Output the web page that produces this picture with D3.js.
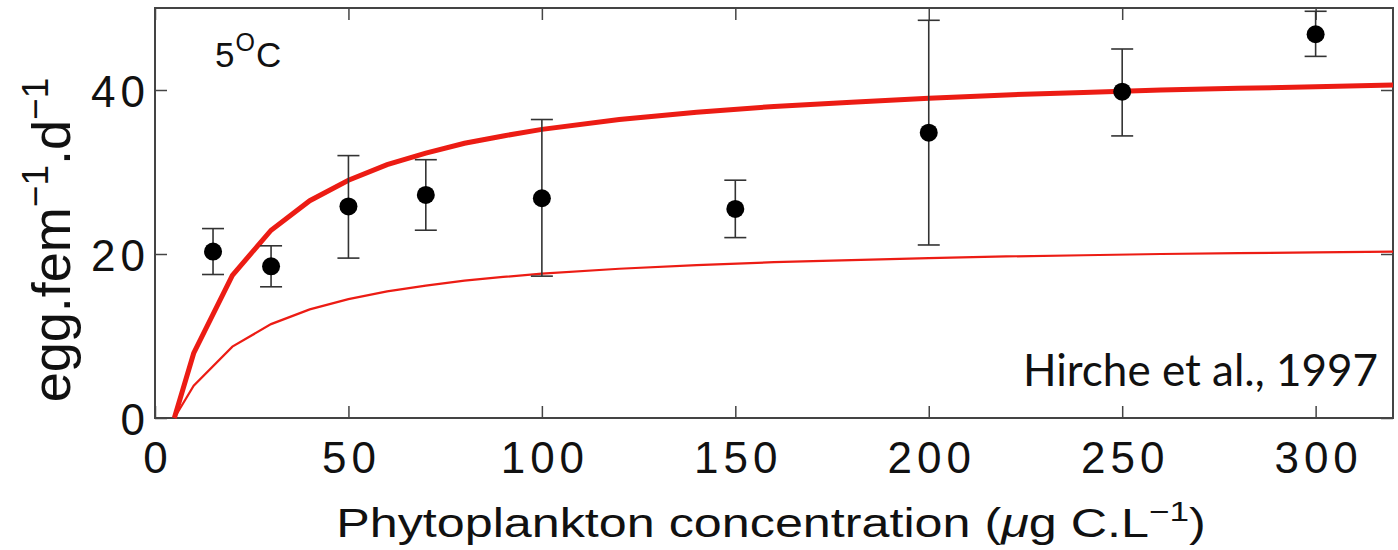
<!DOCTYPE html>
<html>
<head>
<meta charset="utf-8">
<script src="https://cdn.jsdelivr.net/npm/d3@7"></script>
<style>
  body { margin: 0; background: #fff; }
  svg text { font-family: "Liberation Sans", Arial, sans-serif; fill: #111; }
</style>
</head>
<body>
<svg id="chart" width="1398" height="550"></svg>
<script>
// observations (Hirche et al., 1997, 5 °C)
const conc   = [15, 30, 50, 70, 100, 150, 200, 250, 300];
const eggs   = [20.3, 18.5, 25.8, 27.2, 26.8, 25.5, 34.8, 39.8, 46.8];
const errLow = [17.5, 16.0, 19.5, 22.9, 17.3, 22.0, 21.1, 34.4, 44.1];
const errHigh = [23.1, 21.0, 32.0, 31.5, 36.4, 29.0, 48.5, 45.0, 49.6];

// model curves
const curveX     = [5, 10, 20, 30, 40, 50, 60, 70, 80, 90, 100, 120, 140, 160, 180, 200, 220, 240, 260, 280, 300, 320];
const curveThick = [0, 7.9, 17.4, 22.9, 26.5, 29.0, 30.9, 32.3, 33.5, 34.4, 35.2, 36.4, 37.3, 38.0, 38.5, 39.0, 39.4, 39.7, 40.0, 40.2, 40.4, 40.6];
const curveThin  = [0, 3.95, 8.7, 11.45, 13.25, 14.5, 15.45, 16.15, 16.75, 17.2, 17.6, 18.2, 18.65, 19.0, 19.25, 19.5, 19.7, 19.85, 20.0, 20.1, 20.2, 20.3];

const xTicks = [0, 50, 100, 150, 200, 250, 300];
const yTicks = [0, 20, 40];

const margin = {left: 155, top: 8, right: 5, bottom: 132};
const width = 1398 - margin.left - margin.right;
const height = 550 - margin.top - margin.bottom;

const svg = d3.select("#chart");
const g = svg.append("g").attr("transform", "translate(" + margin.left + "," + margin.top + ")");

const x = d3.scaleLinear().domain([0, 320]).range([0, width]);
const y = d3.scaleLinear().domain([0, 50]).range([height, 0]);

const frameColor = "#444";

// axes, matlab style ticks pointing inwards
const xAxis = g.append("g").attr("transform", "translate(0," + height + ")")
  .call(d3.axisBottom(x).tickValues(xTicks).tickSizeInner(-12).tickSizeOuter(0).tickPadding(24));
const xTop = g.append("g")
  .call(d3.axisTop(x).tickValues(xTicks).tickSizeInner(-12).tickSizeOuter(0).tickFormat(""));
const yAxis = g.append("g")
  .call(d3.axisLeft(y).tickValues(yTicks).tickSizeInner(-12).tickSizeOuter(0).tickPadding(5));
const yRight = g.append("g").attr("transform", "translate(" + width + ",0)")
  .call(d3.axisRight(y).tickValues(yTicks).tickSizeInner(-12).tickSizeOuter(0).tickFormat(""));

[xAxis, xTop, yAxis, yRight].forEach(a => {
  a.select(".domain").remove();
  a.selectAll(".tick line").attr("stroke", frameColor).attr("stroke-width", 1.5);
  a.selectAll(".tick text").attr("font-size", 44).attr("fill", "#111")
    .attr("letter-spacing", 5)
    .style("font-family", "Liberation Sans, Arial, sans-serif");
});
yAxis.selectAll(".tick text").attr("dy", "0.38em");
xAxis.selectAll(".tick text").attr("dy", "0.71em").attr("dx", 2.5);

g.append("rect")
  .attr("width", width).attr("height", height)
  .attr("fill", "none").attr("stroke", frameColor).attr("stroke-width", 2);

// model curves
const thick = curveX.map((d, i) => [d, curveThick[i]]);
const thin = curveX.map((d, i) => [d, curveThin[i]]);
const line = d3.line().x(d => x(d[0])).y(d => y(d[1]));

g.append("path").datum(thin)
  .attr("d", line).attr("fill", "none")
  .attr("stroke", "#ec1c14").attr("stroke-width", 2.2);
g.append("path").datum(thick)
  .attr("d", line).attr("fill", "none")
  .attr("stroke", "#ec1c14").attr("stroke-width", 5);

// error bars
const obs = conc.map((d, i) => ({c: d, v: eggs[i], lo: errLow[i], hi: errHigh[i]}));
const eb = g.append("g").attr("stroke", "#333").attr("stroke-width", 1.6);
eb.selectAll(".stem").data(obs).enter().append("line")
  .attr("x1", d => x(d.c)).attr("x2", d => x(d.c))
  .attr("y1", d => y(d.lo)).attr("y2", d => y(d.hi));
eb.selectAll(".capLo").data(obs).enter().append("line")
  .attr("x1", d => x(d.c) - 11).attr("x2", d => x(d.c) + 11)
  .attr("y1", d => y(d.lo)).attr("y2", d => y(d.lo));
eb.selectAll(".capHi").data(obs).enter().append("line")
  .attr("x1", d => x(d.c) - 11).attr("x2", d => x(d.c) + 11)
  .attr("y1", d => y(d.hi)).attr("y2", d => y(d.hi));

g.selectAll(".dot").data(obs).enter().append("circle")
  .attr("cx", d => x(d.c)).attr("cy", d => y(d.v))
  .attr("r", 9).attr("fill", "#000");

// temperature label
const t = g.append("text").attr("x", 60).attr("y", 59).attr("font-size", 35)
  .attr("letter-spacing", 1);
t.append("tspan").text("5");
t.append("tspan").attr("dy", -16).attr("font-size", 25).text("O");
t.append("tspan").attr("dy", 16).text("C");

// source
g.append("text")
  .attr("x", 1378 - margin.left).attr("y", 386 - margin.top)
  .attr("text-anchor", "end")
  .attr("font-size", 44)
  .style("font-family", "Lato, 'Open Sans', sans-serif")
  .text("Hirche et al., 1997");

// x title (matlab text is drawn wider than Liberation Sans)
const sx = 1.257;
const xt = svg.append("text")
  .attr("transform", "scale(" + sx + ",1)")
  .attr("x", 771 / sx).attr("y", 537)
  .attr("text-anchor", "middle").attr("font-size", 40);
xt.append("tspan").text("Phytoplankton concentration (");
xt.append("tspan").attr("font-style", "italic").text("μ");
xt.append("tspan").text("g C.L");
xt.append("tspan").attr("dy", -16).attr("font-size", 28).text("−1");
xt.append("tspan").attr("dy", 16).text(")");

// y title
const yt = svg.append("text")
  .attr("transform", "translate(70,240) rotate(-90)")
  .attr("text-anchor", "middle").attr("font-size", 54);
yt.append("tspan").text("egg.fem");
yt.append("tspan").attr("dy", -22).attr("font-size", 37).text("−1");
yt.append("tspan").attr("dy", 22).text(".d");
yt.append("tspan").attr("dy", -22).attr("font-size", 37).text("−1");
</script>
</body>
</html>
